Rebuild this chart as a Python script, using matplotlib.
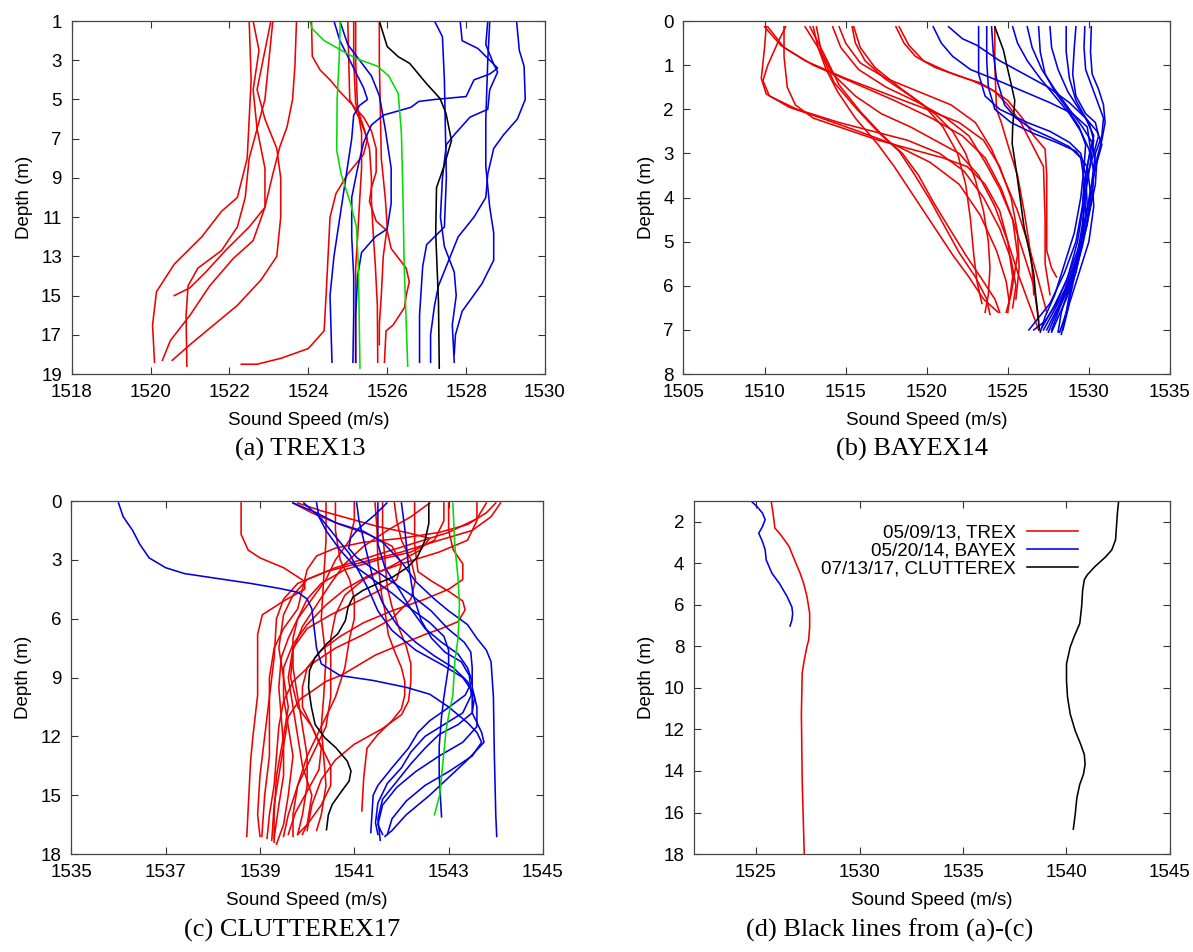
import matplotlib
matplotlib.use("Agg")
import matplotlib.pyplot as plt

plt.rcParams['font.family'] = ['Liberation Sans', 'DejaVu Sans']

RED = '#ee0000'
BLUE = '#0000e6'
GREEN = '#00dd00'

# ---------------- (a) TREX13 : profiles as (sound speed, depth) ----------------
trex_red = [
    [(1522.5, 1), (1522.55, 4), (1522.45, 8), (1522.2, 10), (1521.8, 10.7), (1521.3, 12), (1520.6, 13.4),
     (1520.15, 14.8), (1520.05, 16.5), (1520.1, 18.4)],
    [(1522.6, 1), (1522.75, 2.5), (1522.6, 4.5), (1522.7, 6.5), (1522.9, 8.5), (1522.9, 10.5), (1522.5, 11.5),
     (1521.9, 12.7), (1521.4, 13.8), (1521.0, 14.6), (1520.6, 15.0)],
    [(1523.05, 1), (1522.9, 2.5), (1522.7, 4.5), (1522.9, 6), (1523.2, 7.5), (1523.3, 9), (1523.3, 11),
     (1523.2, 13), (1522.8, 14.2), (1522.2, 15.5), (1521.6, 16.5), (1521.0, 17.5), (1520.55, 18.3)],
    [(1523.1, 1), (1523.0, 3), (1522.9, 5), (1522.5, 8), (1522.4, 10), (1522.2, 11.5), (1521.8, 12.7),
     (1521.2, 13.6), (1520.95, 14.5), (1520.9, 16), (1520.92, 18.6)],
    [(1523.7, 1), (1523.66, 3.3), (1523.6, 5.0), (1523.46, 6.4), (1523.28, 7.4), (1523.1, 8.8), (1522.9, 10.5),
     (1522.6, 12.2), (1522.1, 13.1), (1521.5, 14.5), (1521.0, 16), (1520.5, 17.3), (1520.3, 18.3)],
    [(1524.08, 1), (1524.1, 2.8), (1524.3, 3.5), (1524.55, 4.0), (1524.8, 4.6), (1525.13, 5.3), (1525.4, 5.9),
     (1525.6, 6.6), (1525.72, 7.5), (1525.72, 8.7), (1525.6, 9.5), (1525.55, 10.2), (1525.72, 11.2),
     (1526.0, 11.7), (1526.1, 12.6), (1526.48, 13.6), (1526.56, 14.3), (1526.48, 15.0), (1526.44, 15.6),
     (1526.15, 16.5), (1525.97, 16.8), (1525.93, 18.4)],
    [(1525.0, 1), (1525.05, 5), (1525.3, 6.0), (1525.5, 7.0), (1525.4, 7.8), (1525.0, 8.8), (1524.7, 9.8),
     (1524.55, 11), (1524.5, 13), (1524.45, 15), (1524.4, 16.8), (1524.0, 17.7), (1523.3, 18.2),
     (1522.7, 18.5), (1522.3, 18.5)],
    [(1525.15, 1), (1525.15, 3), (1525.2, 5.2), (1525.4, 6.4), (1525.55, 7.5), (1525.6, 9), (1525.6, 10.2),
     (1525.65, 12), (1525.7, 13.5), (1525.75, 15.5), (1525.76, 18.4)],
    [(1525.2, 1), (1525.2, 3), (1525.25, 5.5), (1525.35, 6.7), (1525.35, 8.5), (1525.3, 10.2), (1525.25, 12),
     (1525.2, 13.6), (1525.2, 15.2), (1525.2, 18.4)],
    [(1525.8, 1), (1525.8, 3), (1525.82, 5), (1525.85, 8), (1525.95, 10), (1526.0, 11.5), (1525.9, 13),
     (1525.85, 15), (1525.8, 16.5), (1525.8, 17.5)],
]
trex_blue = [
    [(1524.65, 1), (1524.8, 2), (1525.1, 3.2), (1525.4, 4.4), (1525.5, 5.0), (1525.3, 5.3), (1525.15, 5.8),
     (1525.1, 7), (1524.95, 9), (1524.8, 11), (1524.65, 13), (1524.55, 15), (1524.6, 18.4)],
    [(1524.8, 1), (1525.0, 2.2), (1525.3, 3), (1525.6, 3.8), (1525.8, 4.8), (1525.95, 6.5), (1526.1, 8.5),
     (1526.1, 10.3), (1526.0, 11.6), (1525.7, 12.0), (1525.35, 12.8), (1525.25, 14), (1525.2, 16), (1525.2, 18.4)],
    [(1527.2, 1), (1527.4, 1.8), (1527.45, 4), (1527.5, 9), (1527.45, 11.5), (1527.0, 12.4), (1526.9, 13.5),
     (1526.82, 16), (1526.82, 18.4)],
    [(1527.85, 1), (1527.9, 2), (1528.3, 2.4), (1528.6, 3.0), (1528.8, 3.4), (1528.6, 3.7), (1528.2, 4.0),
     (1528.0, 4.85), (1527.2, 5.0), (1526.8, 5.1), (1526.6, 5.4), (1525.9, 5.8), (1525.6, 6.3), (1525.4, 7.2),
     (1525.25, 8.5), (1525.1, 10), (1525.1, 12), (1525.15, 14), (1525.15, 16), (1525.13, 18.4)],
    [(1528.55, 1), (1528.5, 2.2), (1528.7, 3.2), (1528.8, 3.6), (1528.6, 4.5), (1528.55, 5.5), (1528.1, 5.9),
     (1527.7, 6.8), (1527.5, 7.3), (1527.4, 9), (1527.35, 11), (1527.45, 12.5), (1527.7, 13.8), (1527.75, 15),
     (1527.65, 16.5), (1527.7, 18.4)],
    [(1528.6, 1), (1528.55, 3), (1528.5, 6), (1528.5, 8.4), (1528.6, 10.5), (1528.7, 11.8), (1528.7, 13.2),
     (1528.4, 14.4), (1527.9, 15.8), (1527.73, 17), (1527.7, 18.0)],
    [(1529.28, 1), (1529.35, 2.5), (1529.47, 3.3), (1529.5, 5), (1529.3, 6.0), (1528.95, 6.8), (1528.7, 7.5),
     (1528.55, 8.8), (1528.5, 10), (1528.2, 11), (1527.8, 12), (1527.5, 13.5), (1527.3, 14.5), (1527.2, 15.5),
     (1527.1, 17), (1527.1, 18.4)],
]
trex_green = [
    [(1524.04, 1), (1524.1, 1.4), (1524.4, 2.0), (1524.83, 2.48), (1525.2, 2.9), (1525.75, 3.3),
     (1526.04, 3.8), (1526.28, 4.7), (1526.36, 6.7), (1526.4, 10), (1526.43, 13.4), (1526.52, 18.6)],
    [(1524.81, 1), (1524.78, 3), (1524.73, 5), (1524.72, 7.6), (1524.83, 8.8), (1525.07, 10.3),
     (1525.22, 11.5), (1525.27, 13.6), (1525.31, 18.7)],
]
trex_black = [(1525.8, 1), (1526.0, 2.3), (1526.28, 2.82), (1526.57, 3.16), (1527.0, 4.2), (1527.34, 4.95),
              (1527.49, 5.7), (1527.63, 7.1), (1527.44, 8.4), (1527.25, 9.5), (1527.23, 11.85),
              (1527.3, 15.3), (1527.32, 18.7)]

# ---------------- (b) BAYEX14 ----------------
bayex_red = [
    [(1510.0, 0.13), (1511.0, 0.55), (1512.5, 0.9), (1515.0, 1.3), (1517.5, 1.65), (1520.0, 2.0), (1522.0, 2.3),
     (1523.5, 2.7), (1524.5, 3.3), (1525.2, 4.0), (1525.6, 4.8), (1525.7, 5.6), (1525.5, 6.3)],
    [(1510.2, 0.13), (1511.2, 0.6), (1513.0, 1.0), (1515.5, 1.4), (1518.0, 1.8), (1520.3, 2.2), (1522.2, 2.6),
     (1523.6, 3.1), (1524.6, 3.8), (1525.3, 4.5), (1525.6, 5.3), (1525.2, 6.2), (1524.9, 6.6)],
    [(1511.3, 0.13), (1510.8, 0.5), (1510.2, 1.0), (1509.9, 1.35), (1510.3, 1.7), (1512.0, 2.0), (1514.6, 2.3),
     (1516.7, 2.5), (1518.8, 2.7), (1520.8, 3.0), (1522.3, 3.4), (1523.5, 4.0), (1524.5, 4.7), (1525.2, 5.4),
     (1525.5, 6.0), (1525.3, 6.5)],
    [(1510.1, 0.13), (1510.0, 0.6), (1509.8, 1.3), (1510.1, 1.65), (1511.5, 1.95), (1513.5, 2.2), (1515.8, 2.5),
     (1518.0, 2.8), (1520.2, 3.2), (1522.0, 3.7), (1523.3, 4.4), (1524.3, 5.2), (1524.9, 5.9), (1525.1, 6.4)],
    [(1511.2, 0.13), (1511.2, 0.8), (1511.4, 1.5), (1511.9, 1.9), (1513.0, 2.2), (1515.0, 2.45), (1517.0, 2.7),
     (1519.0, 2.9), (1521.0, 3.1), (1522.5, 3.3), (1523.6, 3.7), (1524.5, 4.3), (1525.0, 5.0), (1525.3, 5.8),
     (1525.0, 6.6)],
    [(1512.5, 0.13), (1513.4, 0.66), (1514.3, 1.4), (1515.7, 2.0), (1517.1, 2.55), (1518.3, 2.95), (1519.2, 3.45),
     (1520.2, 4.05), (1521.1, 4.65), (1522.0, 5.25), (1523.0, 5.8), (1523.7, 6.3), (1523.9, 6.65)],
    [(1512.8, 0.13), (1513.6, 0.7), (1514.6, 1.45), (1515.9, 2.05), (1517.3, 2.6), (1518.5, 3.0), (1519.5, 3.5),
     (1520.4, 4.1), (1521.4, 4.7), (1522.4, 5.3), (1523.4, 5.85), (1524.2, 6.3), (1524.5, 6.6)],
    [(1513.2, 0.13), (1513.5, 0.7), (1514.2, 1.2), (1515.6, 1.7), (1517.2, 2.1), (1519.0, 2.4), (1520.5, 2.7),
     (1522.0, 3.0), (1523.2, 3.5), (1524.2, 4.2), (1525.0, 5.0), (1525.7, 5.8), (1526.4, 6.5), (1526.9, 7.0)],
    [(1514.2, 0.13), (1514.7, 0.6), (1515.8, 1.1), (1517.5, 1.5), (1519.5, 1.85), (1521.2, 2.2), (1522.6, 2.6),
     (1523.6, 3.2), (1524.5, 3.8), (1525.3, 4.5), (1526.0, 5.3), (1526.6, 6.0), (1526.9, 6.8)],
    [(1514.6, 0.13), (1515.0, 0.5), (1515.9, 0.95), (1517.5, 1.3), (1519.5, 1.6), (1521.5, 1.9), (1523.0, 2.3),
     (1524.0, 2.9), (1524.8, 3.6), (1525.6, 4.3), (1526.3, 5.1), (1526.9, 5.9), (1527.4, 6.6)],
    [(1515.4, 0.13), (1515.6, 0.5), (1516.2, 0.9), (1517.4, 1.3), (1519.0, 1.7), (1520.5, 2.1), (1521.6, 2.5),
     (1522.4, 3.0), (1523.0, 3.6), (1523.5, 4.3), (1523.8, 5.0), (1523.9, 5.6), (1523.8, 6.2), (1523.6, 6.6)],
    [(1515.5, 0.13), (1515.9, 0.6), (1516.8, 1.05), (1518.3, 1.5), (1519.8, 1.9), (1521.0, 2.4), (1521.9, 3.0),
     (1522.4, 3.7), (1522.7, 4.5), (1522.9, 5.3), (1523.1, 5.9), (1523.4, 6.4)],
    [(1518.1, 0.13), (1518.6, 0.5), (1519.3, 0.8), (1520.5, 1.05), (1522.0, 1.25), (1523.3, 1.4), (1524.2, 1.6),
     (1525.0, 1.9), (1525.8, 2.3), (1526.5, 2.8), (1527.2, 3.3), (1527.3, 4.5), (1527.3, 5.5), (1527.6, 6.2)],
    [(1518.3, 0.13), (1518.9, 0.55), (1519.8, 0.9), (1521.3, 1.15), (1522.8, 1.35), (1524.0, 1.55), (1525.0, 1.8),
     (1525.9, 2.2), (1526.6, 2.6), (1527.3, 2.9), (1527.4, 3.5), (1527.4, 4.5), (1527.4, 5.2), (1527.7, 5.6),
     (1528.0, 5.8)],
    [(1524.2, 0.13), (1524.2, 1.0), (1524.3, 2.0), (1524.6, 2.3), (1525.0, 2.8), (1525.6, 3.5), (1526.0, 4.3),
     (1526.3, 5.0), (1526.5, 5.6), (1526.6, 6.2)],
    [(1513.0, 0.13), (1513.3, 0.6), (1513.8, 1.1), (1514.5, 1.6), (1515.6, 2.2), (1517.0, 2.8), (1518.0, 3.3),
     (1518.9, 3.8), (1519.8, 4.3), (1520.7, 4.8), (1521.6, 5.3), (1522.6, 5.8), (1523.5, 6.3), (1524.4, 6.6)],
]
bayex_blue = [
    [(1520.4, 0.13), (1520.9, 0.5), (1521.6, 0.8), (1522.7, 1.1), (1524.4, 1.35), (1526.0, 1.6), (1527.6, 1.85),
     (1529.0, 2.1), (1529.9, 2.4), (1530.1, 2.9), (1529.8, 3.5), (1529.6, 4.2), (1529.2, 5.0), (1528.5, 5.7),
     (1527.6, 6.4), (1526.3, 7.0)],
    [(1521.35, 0.13), (1522.2, 0.4), (1523.1, 0.55), (1524.5, 0.9), (1526.0, 1.2), (1527.5, 1.5), (1528.8, 1.85),
     (1529.8, 2.2), (1530.3, 2.6), (1530.0, 3.1), (1529.7, 3.7), (1529.8, 4.4), (1529.5, 5.1), (1528.9, 5.8),
     (1528.2, 6.4), (1527.4, 7.0)],
    [(1523.2, 0.13), (1523.2, 1.2), (1523.6, 1.7), (1524.5, 2.0), (1526.2, 2.3), (1527.6, 2.5), (1528.8, 2.75),
     (1529.5, 3.0), (1529.8, 3.5), (1529.9, 4.2), (1529.6, 4.9), (1529.1, 5.6), (1528.5, 6.2), (1527.9, 6.7),
     (1527.5, 7.05)],
    [(1523.7, 0.13), (1523.7, 0.9), (1523.8, 1.5), (1524.2, 2.0), (1525.2, 2.3), (1526.6, 2.55), (1528.0, 2.75),
     (1529.2, 2.95), (1529.9, 3.3), (1530.1, 3.9), (1529.9, 4.6), (1529.4, 5.3), (1528.8, 6.0), (1528.3, 6.6),
     (1528.1, 7.05)],
    [(1525.3, 0.13), (1525.6, 0.5), (1526.2, 0.9), (1527.0, 1.3), (1527.9, 1.7), (1528.8, 2.1), (1529.5, 2.5),
     (1530.0, 2.9), (1530.3, 3.4), (1530.2, 4.0), (1529.8, 4.7), (1529.2, 5.4), (1528.5, 6.1), (1527.8, 6.6),
     (1527.2, 7.0)],
    [(1526.2, 0.13), (1526.5, 0.6), (1527.1, 1.1), (1527.9, 1.55), (1528.8, 2.0), (1529.6, 2.4), (1530.2, 2.75),
     (1530.4, 3.2), (1530.2, 3.8), (1529.9, 4.5), (1529.5, 5.2), (1528.9, 5.9), (1528.2, 6.5), (1527.7, 7.0)],
    [(1526.9, 0.13), (1527.0, 0.7), (1527.3, 1.2), (1527.9, 1.6), (1528.7, 2.0), (1529.4, 2.4), (1529.8, 2.8),
     (1529.7, 3.3), (1529.5, 4.0), (1529.1, 4.8), (1528.5, 5.5), (1527.9, 6.2), (1527.3, 6.7), (1527.0, 7.05)],
    [(1527.6, 0.13), (1527.7, 0.6), (1528.1, 1.1), (1528.7, 1.6), (1529.4, 2.0), (1530.0, 2.3), (1530.3, 2.7),
     (1530.1, 3.2), (1529.8, 3.9), (1529.6, 4.6), (1529.3, 5.3), (1528.9, 6.0), (1528.6, 6.6), (1528.3, 7.1)],
    [(1528.6, 0.13), (1528.6, 0.7), (1528.8, 1.3), (1529.2, 1.8), (1529.8, 2.2), (1530.5, 2.5), (1530.8, 2.8),
     (1530.5, 3.2), (1530.1, 3.8), (1529.8, 4.5), (1529.3, 5.2), (1528.6, 5.9), (1527.8, 6.5), (1527.1, 6.95)],
    [(1529.2, 0.13), (1529.1, 0.6), (1529.0, 1.2), (1529.2, 1.7), (1529.8, 2.1), (1530.4, 2.3), (1530.6, 2.6),
     (1530.3, 3.0), (1529.9, 3.5), (1529.7, 4.2), (1529.6, 5.0), (1529.2, 5.7), (1528.6, 6.3), (1528.0, 6.8),
     (1527.7, 7.05)],
    [(1529.75, 0.13), (1529.7, 0.6), (1529.8, 1.1), (1530.2, 1.5), (1530.6, 1.9), (1530.9, 2.2), (1530.8, 2.6),
     (1530.4, 3.0), (1530.2, 3.6), (1530.3, 4.2), (1530.0, 5.0), (1529.4, 5.7), (1528.8, 6.4), (1528.4, 7.0)],
    [(1530.15, 0.13), (1530.1, 0.7), (1530.2, 1.2), (1530.6, 1.55), (1530.9, 1.9), (1531.0, 2.3), (1530.8, 2.7),
     (1530.5, 3.1), (1530.4, 3.7), (1530.0, 4.4), (1529.6, 5.1), (1529.1, 5.8), (1528.7, 6.5), (1528.2, 7.05)],
    [(1524.0, 0.13), (1524.1, 0.7), (1524.3, 1.3), (1524.8, 1.9), (1525.5, 2.2), (1526.5, 2.45), (1527.7, 2.65),
     (1528.8, 2.85), (1529.5, 3.1), (1529.7, 3.6), (1529.6, 4.3), (1529.3, 5.0), (1528.7, 5.8), (1528.0, 6.4),
     (1527.3, 6.8), (1526.6, 7.0)],
]
bayex_black = [(1524.2, 0.13), (1524.73, 0.66), (1524.96, 1.04), (1525.2, 1.42), (1525.43, 1.8), (1525.3, 2.4),
               (1525.27, 2.78), (1525.43, 3.16), (1525.55, 3.46), (1525.78, 4.07), (1526.0, 4.67),
               (1526.36, 5.28), (1526.6, 5.73), (1526.71, 6.18), (1526.83, 6.56), (1526.95, 7.0)]

# ---------------- (c) CLUTTEREX17 ----------------
clutter_red = [
    [(1538.6, 0.1), (1538.6, 1.7), (1538.75, 2.5), (1539.0, 2.9), (1539.5, 3.4), (1539.95, 4.1), (1539.95, 4.5),
     (1539.5, 5.1), (1539.05, 5.8), (1538.95, 6.8), (1538.95, 9.9), (1538.85, 12), (1538.8, 13.3), (1538.72, 17.1)],
    [(1544.1, 0.1), (1543.9, 0.8), (1543.5, 1.5), (1542.8, 2.0), (1542.0, 2.6), (1541.2, 3.1), (1540.4, 3.6),
     (1539.8, 4.2), (1539.5, 5.0), (1539.35, 6.0), (1539.3, 8.0), (1539.2, 10), (1539.1, 12), (1539.0, 14),
     (1538.95, 16), (1539.0, 17.1)],
    [(1543.8, 0.1), (1543.6, 0.9), (1543.0, 1.6), (1542.2, 2.2), (1541.4, 2.8), (1540.6, 3.4), (1540.0, 4.0),
     (1539.7, 4.8), (1539.5, 5.8), (1539.4, 7.5), (1539.5, 9.0), (1539.6, 10.5), (1539.5, 12), (1539.35, 14),
     (1539.3, 16), (1539.3, 17.4)],
    [(1543.6, 0.1), (1543.6, 1.0), (1543.4, 2.0), (1542.8, 2.6), (1542.0, 3.2), (1541.3, 3.8), (1540.8, 4.5),
     (1540.4, 5.3), (1540.0, 6.3), (1539.7, 7.3), (1539.5, 8.5), (1539.5, 10), (1539.6, 11.5), (1539.7, 13),
     (1539.6, 15), (1539.5, 16.5), (1539.35, 17.5)],
    [(1542.28, 0.1), (1542.28, 2.2), (1542.35, 3.6), (1542.65, 4.1), (1543.0, 4.6), (1543.3, 5.1), (1543.35, 5.55),
     (1543.2, 6.15), (1542.85, 6.5), (1542.5, 6.8), (1542.1, 7.2), (1541.8, 7.5), (1541.45, 7.85), (1541.1, 8.35),
     (1540.75, 8.85), (1540.4, 9.2), (1540.1, 9.7), (1539.85, 10.1), (1539.6, 11), (1539.5, 12.5), (1539.4, 14),
     (1539.3, 15.5), (1539.25, 17.3)],
    [(1542.9, 0.1), (1542.9, 1.0), (1542.7, 2.0), (1542.2, 2.6), (1541.5, 3.0), (1540.8, 3.5), (1540.3, 4.2),
     (1540.0, 5.0), (1539.8, 6.0), (1539.7, 7.0), (1539.7, 8.5), (1539.8, 10), (1539.9, 11.5), (1540.0, 13),
     (1540.0, 14.5), (1539.9, 16), (1539.8, 17.0)],
    [(1541.44, 0.1), (1541.48, 1.4), (1541.5, 3.1), (1541.58, 4.8), (1541.65, 5.6), (1541.72, 6.8), (1541.86, 7.7),
     (1542.0, 8.5), (1542.07, 9.2), (1542.07, 9.9), (1542.0, 10.6), (1541.8, 11.2), (1541.5, 11.9),
     (1541.27, 12.6), (1541.2, 14.1), (1541.16, 15.8)],
    [(1541.6, 0.1), (1541.6, 1.5), (1541.65, 3.0), (1541.7, 4.4), (1541.8, 5.4), (1541.95, 6.5), (1542.1, 7.4),
     (1542.2, 8.3), (1542.2, 9.2), (1542.15, 10.2), (1542.0, 10.9), (1541.6, 11.6), (1541.0, 12.4),
     (1540.6, 13.2), (1540.3, 14.2), (1540.1, 15.5), (1540.0, 16.8)],
    [(1540.6, 0.1), (1540.6, 1.5), (1540.7, 3.0), (1540.9, 4.0), (1541.0, 5.0), (1541.0, 6.0), (1540.9, 7.0),
     (1540.8, 8.5), (1540.6, 10), (1540.3, 11.5), (1540.0, 13), (1539.8, 14.5), (1539.7, 16), (1539.7, 17.1)],
    [(1540.4, 0.1), (1540.4, 2.0), (1540.35, 4.0), (1540.3, 6.0), (1540.4, 8.0), (1540.35, 10), (1540.3, 11.5),
     (1540.35, 13), (1540.4, 14.5), (1540.3, 16), (1540.2, 16.8)],
    [(1539.7, 0.1), (1540.1, 0.6), (1540.7, 1.2), (1541.3, 1.7), (1541.8, 2.3), (1542.0, 3.2), (1541.9, 4.0),
     (1541.5, 4.6), (1541.0, 5.2), (1540.5, 5.8), (1540.0, 6.5), (1539.7, 7.5), (1539.6, 9.0), (1539.7, 10.5),
     (1539.8, 12), (1539.9, 13.5), (1540.1, 15), (1540.0, 16.5), (1539.9, 17.0)],
    [(1541.0, 0.1), (1541.0, 1.0), (1540.9, 2.0), (1540.6, 3.0), (1540.4, 4.0), (1540.1, 5.0), (1539.8, 6.0),
     (1539.6, 7.0), (1539.45, 8.0), (1539.4, 9.5), (1539.45, 11), (1539.5, 12.5), (1539.5, 14), (1539.4, 15.5),
     (1539.3, 17.2)],
    [(1544.0, 0.1), (1543.8, 0.6), (1543.4, 1.2), (1542.8, 1.6), (1542.0, 1.9), (1541.2, 2.1), (1540.6, 2.4),
     (1540.2, 2.8), (1540.0, 3.5), (1539.9, 4.5), (1539.8, 5.5), (1539.5, 6.5), (1539.3, 7.5), (1539.2, 9.0),
     (1539.2, 11), (1539.2, 13), (1539.1, 15), (1539.04, 17.1)],
    [(1543.0, 0.1), (1543.0, 1.5), (1543.1, 2.5), (1543.3, 3.2), (1543.3, 4.0), (1543.0, 4.5), (1542.5, 5.0),
     (1541.8, 5.6), (1541.2, 6.2), (1540.7, 6.9), (1540.3, 7.6), (1540.0, 8.5), (1539.9, 9.5), (1539.9, 10.5),
     (1540.1, 11.5), (1540.3, 12.5), (1540.5, 13.5), (1540.5, 14.5), (1540.3, 15.5), (1540.0, 16.5), (1539.8, 17.0)],
    [(1539.8, 0.1), (1540.3, 0.5), (1540.9, 0.9), (1541.5, 1.3), (1542.1, 1.6), (1542.6, 1.9), (1542.4, 2.5),
     (1541.8, 3.3), (1541.2, 4.0), (1540.8, 4.8), (1540.6, 5.8), (1540.5, 7.0), (1540.5, 8.5), (1540.5, 10),
     (1540.4, 11.5), (1540.2, 12.5), (1540.0, 13.5), (1539.8, 14.5), (1539.6, 16), (1539.5, 17.1)],
    [(1542.6, 0.1), (1542.2, 0.8), (1541.7, 1.5), (1541.2, 2.3), (1540.8, 3.2), (1540.5, 4.2), (1540.2, 5.3),
     (1539.9, 6.4), (1539.7, 7.6), (1539.65, 9), (1539.8, 10.5), (1540.1, 11.5), (1540.3, 12.6), (1540.25, 13.7),
     (1540.0, 14.8), (1539.75, 15.9), (1539.6, 17.0)],
    [(1541.85, 0.1), (1541.9, 1.0), (1542.0, 2.0), (1542.2, 3.0), (1542.3, 4.0), (1542.2, 5.0), (1541.8, 6.0),
     (1541.2, 6.8), (1540.6, 7.5), (1540.1, 8.3), (1539.7, 9.2), (1539.5, 10.2), (1539.4, 11.5), (1539.35, 13),
     (1539.3, 14.5), (1539.2, 16), (1539.15, 17.2)],
]
clutter_blue = [
    [(1536.0, 0.1), (1536.1, 0.8), (1536.3, 1.5), (1536.45, 2.2), (1536.65, 2.9), (1537.0, 3.4), (1537.4, 3.7),
     (1538.1, 3.95), (1538.8, 4.2), (1539.4, 4.45), (1539.8, 4.65), (1540.0, 5.0), (1540.1, 5.5), (1540.15, 6.5),
     (1540.2, 7.5), (1540.3, 8.3), (1540.7, 8.9), (1541.4, 9.15), (1542.1, 9.5), (1542.6, 9.85), (1543.0, 10.5),
     (1543.4, 11.3), (1543.6, 11.8), (1543.7, 12.3), (1543.5, 13.0), (1543.0, 13.8), (1542.5, 14.5),
     (1542.1, 15.3), (1541.8, 16.2), (1541.7, 17.0)],
    [(1539.7, 0.1), (1540.2, 0.6), (1540.6, 1.1), (1541.2, 1.55), (1541.6, 2.1), (1542.0, 3.1), (1542.3, 4.1),
     (1542.7, 5.0), (1543.0, 5.6), (1543.4, 6.3), (1543.6, 7.0), (1543.8, 7.6), (1543.9, 8.2), (1543.95, 10),
     (1543.97, 13), (1544.0, 16), (1544.02, 17.1)],
    [(1541.5, 0.1), (1541.5, 1.0), (1541.5, 2.2), (1541.65, 3.4), (1541.95, 4.5), (1542.2, 5.5), (1542.5, 6.5),
     (1542.85, 7.2), (1543.2, 7.8), (1543.4, 8.5), (1543.5, 9.2), (1543.35, 9.9), (1542.9, 10.7), (1542.6, 11.2),
     (1542.35, 11.8), (1542.15, 12.6), (1541.8, 13.6), (1541.5, 14.5), (1541.4, 15.0), (1541.35, 16.9)],
    [(1541.05, 0.1), (1541.1, 1.0), (1541.2, 2.0), (1541.3, 3.0), (1541.4, 4.0), (1541.6, 5.2), (1541.9, 6.3),
     (1542.3, 7.2), (1542.7, 7.9), (1543.1, 8.5), (1543.4, 9.2), (1543.55, 10), (1543.5, 10.8), (1543.2, 11.4),
     (1542.8, 11.9), (1542.5, 12.6), (1542.2, 13.4), (1541.9, 14.3), (1541.6, 15.2), (1541.5, 16.2),
     (1541.55, 17.3)],
    [(1541.69, 0.1), (1541.44, 0.7), (1541.09, 1.4), (1540.92, 1.9), (1540.88, 2.4), (1541.06, 2.9),
     (1541.37, 3.4), (1541.79, 4.1), (1542.21, 4.8), (1542.63, 5.6), (1542.98, 6.5), (1543.33, 7.2),
     (1543.47, 7.7), (1543.5, 8.5), (1543.5, 9.5), (1543.6, 10.5), (1543.6, 11.5), (1543.3, 12.3),
     (1542.8, 13.0), (1542.3, 13.8), (1541.9, 14.6), (1541.6, 15.5), (1541.5, 16.5), (1541.6, 17.0)],
    [(1542.0, 0.1), (1542.07, 1.4), (1542.14, 3.1), (1542.25, 4.8), (1542.42, 6.1), (1542.64, 7.0),
     (1542.92, 7.7), (1543.27, 8.2), (1543.44, 8.9), (1543.48, 9.9), (1543.3, 10.8), (1542.9, 11.4),
     (1542.5, 12.0), (1542.2, 12.8), (1542.0, 13.6), (1541.7, 14.4), (1541.5, 15.4), (1541.45, 16.4),
     (1541.5, 17.0)],
    [(1540.2, 0.1), (1540.25, 0.8), (1540.4, 1.5), (1540.7, 2.5), (1541.0, 3.3), (1541.4, 4.0), (1541.8, 4.7),
     (1542.2, 5.5), (1542.6, 6.2), (1542.9, 6.9), (1543.0, 7.6), (1543.0, 8.4), (1542.95, 9.2), (1542.9, 10.0),
     (1542.85, 11), (1542.8, 12.5), (1542.8, 14), (1542.85, 16.1)],
    [(1539.93, 0.1), (1540.3, 0.9), (1540.6, 1.8), (1540.9, 2.7), (1541.1, 3.6), (1541.3, 4.5), (1541.5, 5.6),
     (1541.8, 6.6), (1542.3, 7.6), (1542.9, 8.4), (1543.3, 9.0), (1543.5, 9.7), (1543.5, 10.8), (1543.7, 11.8),
     (1543.75, 12.3), (1543.4, 13.2), (1543.0, 14.1), (1542.6, 15.0), (1542.1, 16.0), (1541.8, 16.8),
     (1541.65, 17.1)],
]
clutter_green = [[(1543.09, 0.12), (1543.13, 2.24), (1543.2, 3.94), (1543.23, 5.3), (1543.2, 7.0),
                  (1543.13, 8.2), (1543.09, 9.9), (1543.02, 10.7), (1542.95, 11.6), (1542.88, 13.3),
                  (1542.81, 15.0), (1542.7, 16.0)]]
clutter_black = [(1542.58, 0.12), (1542.58, 1.14), (1542.5, 2.0), (1542.34, 2.85), (1542.14, 3.36),
                 (1541.82, 3.87), (1541.5, 4.2), (1541.18, 4.56), (1540.97, 4.9), (1540.87, 5.4), (1540.81, 6.1),
                 (1540.65, 6.77), (1540.41, 7.29), (1540.17, 7.97), (1540.05, 8.65), (1540.03, 9.5),
                 (1540.09, 10.5), (1540.17, 11.4), (1540.37, 12.06), (1540.61, 12.58), (1540.85, 13.26),
                 (1540.93, 13.77), (1540.89, 14.28), (1540.73, 14.8), (1540.53, 15.48), (1540.45, 16.0),
                 (1540.41, 16.76)]

# ---------------- (d) black lines from (a)-(c) ----------------
d_trex = [(1525.73, 1), (1525.82, 1.58), (1525.91, 2.3), (1526.13, 2.55), (1526.37, 2.87), (1526.6, 3.2),
          (1526.86, 3.84), (1527.13, 4.48), (1527.3, 4.97), (1527.46, 5.6), (1527.59, 6.4), (1527.59, 7.06),
          (1527.54, 7.7), (1527.46, 8.0), (1527.32, 8.7), (1527.23, 9.3), (1527.19, 11.26), (1527.23, 14.5),
          (1527.32, 17.7), (1527.33, 18)]
d_bayex = [(1524.76, 1), (1525.04, 1.26), (1525.31, 1.58), (1525.44, 1.9), (1525.31, 2.23), (1525.13, 2.55),
           (1525.31, 2.95), (1525.44, 3.35), (1525.49, 3.84), (1525.77, 4.48), (1526.13, 4.97), (1526.5, 5.6),
           (1526.73, 6.1), (1526.77, 6.42), (1526.73, 6.74), (1526.64, 7.02)]
d_clutter = [(1542.52, 1), (1542.46, 1.58), (1542.37, 2.87), (1542.19, 3.35), (1541.9, 3.68), (1541.37, 4.16),
             (1541.0, 4.56), (1540.86, 4.8), (1540.78, 5.3), (1540.73, 6.1), (1540.64, 6.9), (1540.36, 7.55),
             (1540.18, 8.03), (1540.0, 8.84), (1540.0, 9.65), (1540.05, 10.45), (1540.18, 11.26),
             (1540.42, 12.06), (1540.68, 12.7), (1540.86, 13.2), (1540.9, 13.68), (1540.82, 14.16),
             (1540.64, 14.65), (1540.5, 15.3), (1540.42, 16.1), (1540.33, 16.8)]
d_labels = ['05/09/13, TREX', '05/20/14, BAYEX', '07/13/17, CLUTTEREX']

FS = 13.5


def draw(ax, prof, color, label=None):
    ax.plot([p[0] for p in prof], [p[1] for p in prof], color=color, lw=1.15, label=label)


def setup(ax, xlim, xticks, ylim, yticks):
    ax.set_xlim(*xlim)
    ax.set_ylim(ylim[1], ylim[0])
    ax.set_xticks(xticks)
    ax.set_yticks(yticks)
    ax.tick_params(direction='in', top=True, right=True, length=5, width=0.8,
                   labelsize=FS, pad=7, color='#333333')
    for s in ax.spines.values():
        s.set_color('#444444')
        s.set_linewidth(0.9)
    ax.set_xlabel('Sound Speed (m/s)', fontsize=FS, labelpad=8)
    ax.set_ylabel('Depth (m)', fontsize=FS, labelpad=6)


fig = plt.figure(figsize=(11.93, 9.52), dpi=100)
ax_a = fig.add_axes([0.0601, 0.6071, 0.3967, 0.3708])
ax_b = fig.add_axes([0.5729, 0.6071, 0.4078, 0.3708])
ax_c = fig.add_axes([0.0598, 0.1029, 0.3953, 0.3708])
ax_d = fig.add_axes([0.5817, 0.1029, 0.3990, 0.3708])

# (a)
for p in trex_red:
    draw(ax_a, p, RED)
for p in trex_blue:
    draw(ax_a, p, BLUE)
for p in trex_green:
    draw(ax_a, p, GREEN)
draw(ax_a, trex_black, 'black')
setup(ax_a, (1518, 1530), range(1518, 1531, 2), (1, 19), range(1, 20, 2))

# (b)
for p in bayex_red:
    draw(ax_b, p, RED)
for p in bayex_blue:
    draw(ax_b, p, BLUE)
draw(ax_b, bayex_black, 'black')
setup(ax_b, (1505, 1535), range(1505, 1536, 5), (0, 8), range(0, 9))

# (c)
for p in clutter_red:
    draw(ax_c, p, RED)
for p in clutter_blue:
    draw(ax_c, p, BLUE)
for p in clutter_green:
    draw(ax_c, p, GREEN)
draw(ax_c, clutter_black, 'black')
setup(ax_c, (1535, 1545), range(1535, 1546, 2), (0, 18), range(0, 19, 3))

# (d)
draw(ax_d, d_trex, RED, d_labels[0])
draw(ax_d, d_bayex, BLUE, d_labels[1])
draw(ax_d, d_clutter, 'black', d_labels[2])
setup(ax_d, (1522, 1545), range(1525, 1546, 5), (1, 18), range(2, 19, 2))
ax_d.legend(loc='upper right', bbox_to_anchor=(0.807, 0.935), frameon=False, markerfirst=False,
            fontsize=FS, handlelength=2.7, labelspacing=0.05, borderpad=0, borderaxespad=0,
            handletextpad=0.6)

cap = dict(fontsize=19, family=['Liberation Serif', 'DejaVu Serif'], ha='center', va='center')
fig.text(300 / 1193, 1 - 449 / 952, '(a) TREX13', **cap)
fig.text(912 / 1193, 1 - 449 / 952, '(b) BAYEX14', **cap)
fig.text(292 / 1193, 1 - 930 / 952, '(c) CLUTTEREX17', **cap)
fig.text(890 / 1193, 1 - 930 / 952, '(d) Black lines from (a)-(c)', **cap)

fig.savefig('out.png', dpi=100)
